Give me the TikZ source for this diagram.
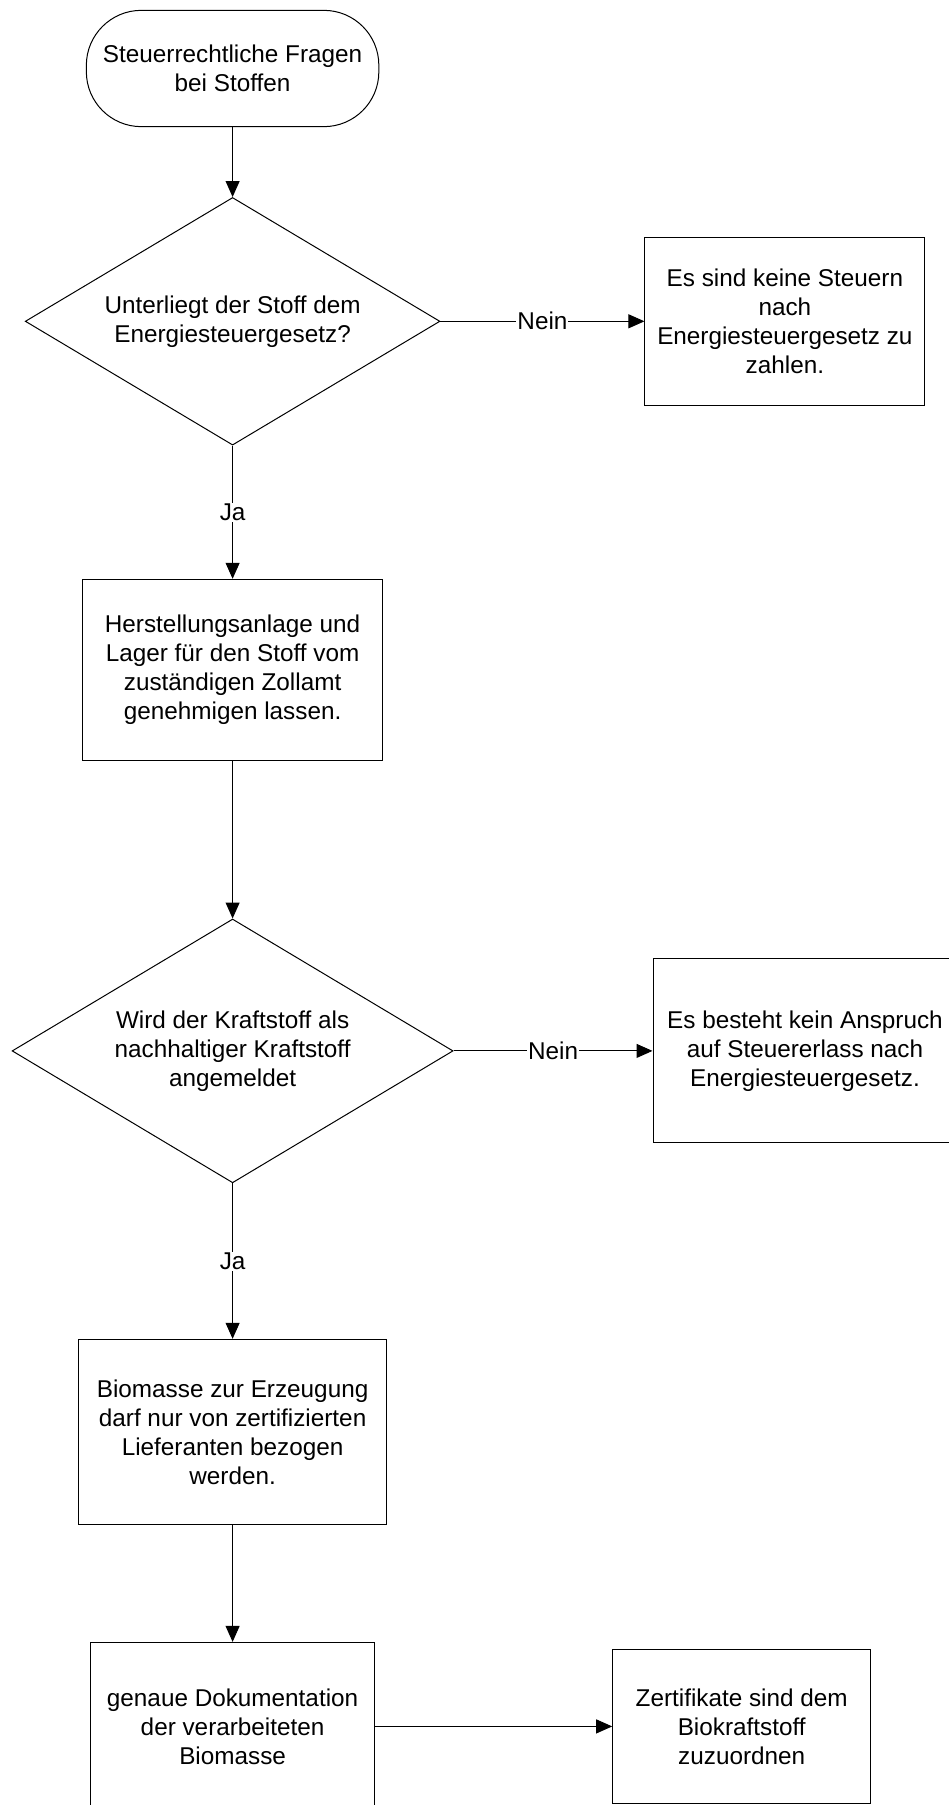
\documentclass[tikz,border=0pt]{standalone}
\usepackage{fontspec}
\setmainfont{Liberation Sans}
\usetikzlibrary{shapes.geometric,arrows.meta}
\tikzset{
  every node/.style={font=\fontsize{24.3}{29}\selectfont, align=center},
  term/.style={draw, line width=1pt, rounded corners=55pt, inner sep=0pt},
  dec/.style={draw, line width=1pt, diamond, inner sep=0pt},
  proc/.style={draw, line width=1pt, rectangle, inner sep=0pt},
  arr/.style={line width=1pt, -{Triangle[length=16pt,width=14pt]}},
  lbl/.style={fill=white, inner sep=1pt}
}
\begin{document}
\begin{tikzpicture}[x=1pt,y=-1pt]
\useasboundingbox (0,0) rectangle (949,1805);
\clip (0,0) rectangle (949,1805);
\node[term, minimum width=292.5pt, minimum height=116.3pt] (start) at (232.6,68.5) {Steuerrechtliche Fragen\\bei Stoffen};
\node[dec, aspect=1.675, minimum width=414.7pt, minimum height=247.6pt] (d1) at (232.6,321.3) {Unterliegt der Stoff dem\\Energiesteuergesetz?};
\node[proc, minimum width=279.9pt, minimum height=168.1pt] (b1) at (784.9,321.3) {Es sind keine Steuern\\nach\\Energiesteuergesetz zu\\zahlen.};
\node[proc, minimum width=300.6pt, minimum height=180.8pt] (b2) at (232.6,669.7) {Herstellungsanlage und\\Lager für den Stoff vom\\zuständigen Zollamt\\genehmigen lassen.};
\node[dec, aspect=1.672, minimum width=441pt, minimum height=263.8pt] (d2) at (232.6,1050.9) {Wird der Kraftstoff als\\nachhaltiger Kraftstoff\\angemeldet};
\node[proc, minimum width=304pt, minimum height=184pt] (b3) at (805,1050.9) {Es besteht kein Anspruch\\auf Steuererlass nach\\Energiesteuergesetz.};
\node[proc, minimum width=307.5pt, minimum height=185.4pt] (b4) at (232.6,1432) {Biomasse zur Erzeugung\\darf nur von zertifizierten\\Lieferanten bezogen\\werden.};
\node[proc, minimum width=284.5pt, minimum height=168pt] (b5) at (232.6,1726.4) {genaue Dokumentation\\der verarbeiteten\\Biomasse};
\node[proc, minimum width=258pt, minimum height=154.4pt] (b6) at (741.7,1726.4) {Zertifikate sind dem\\Biokraftstoff\\zuzuordnen};

\draw[arr] (start) -- (d1);
\draw[arr] (d1.east) -- node[lbl] {Nein} (b1.west);
\draw[arr] (d1.south) -- node[lbl] {Ja} (b2.north);
\draw[arr] (b2) -- (d2);
\draw[arr] (d2.east) -- node[lbl] {Nein} (b3.west);
\draw[arr] (d2.south) -- node[lbl] {Ja} (b4.north);
\draw[arr] (b4) -- (b5);
\draw[arr] (b5) -- (b6);
\end{tikzpicture}
\end{document}
